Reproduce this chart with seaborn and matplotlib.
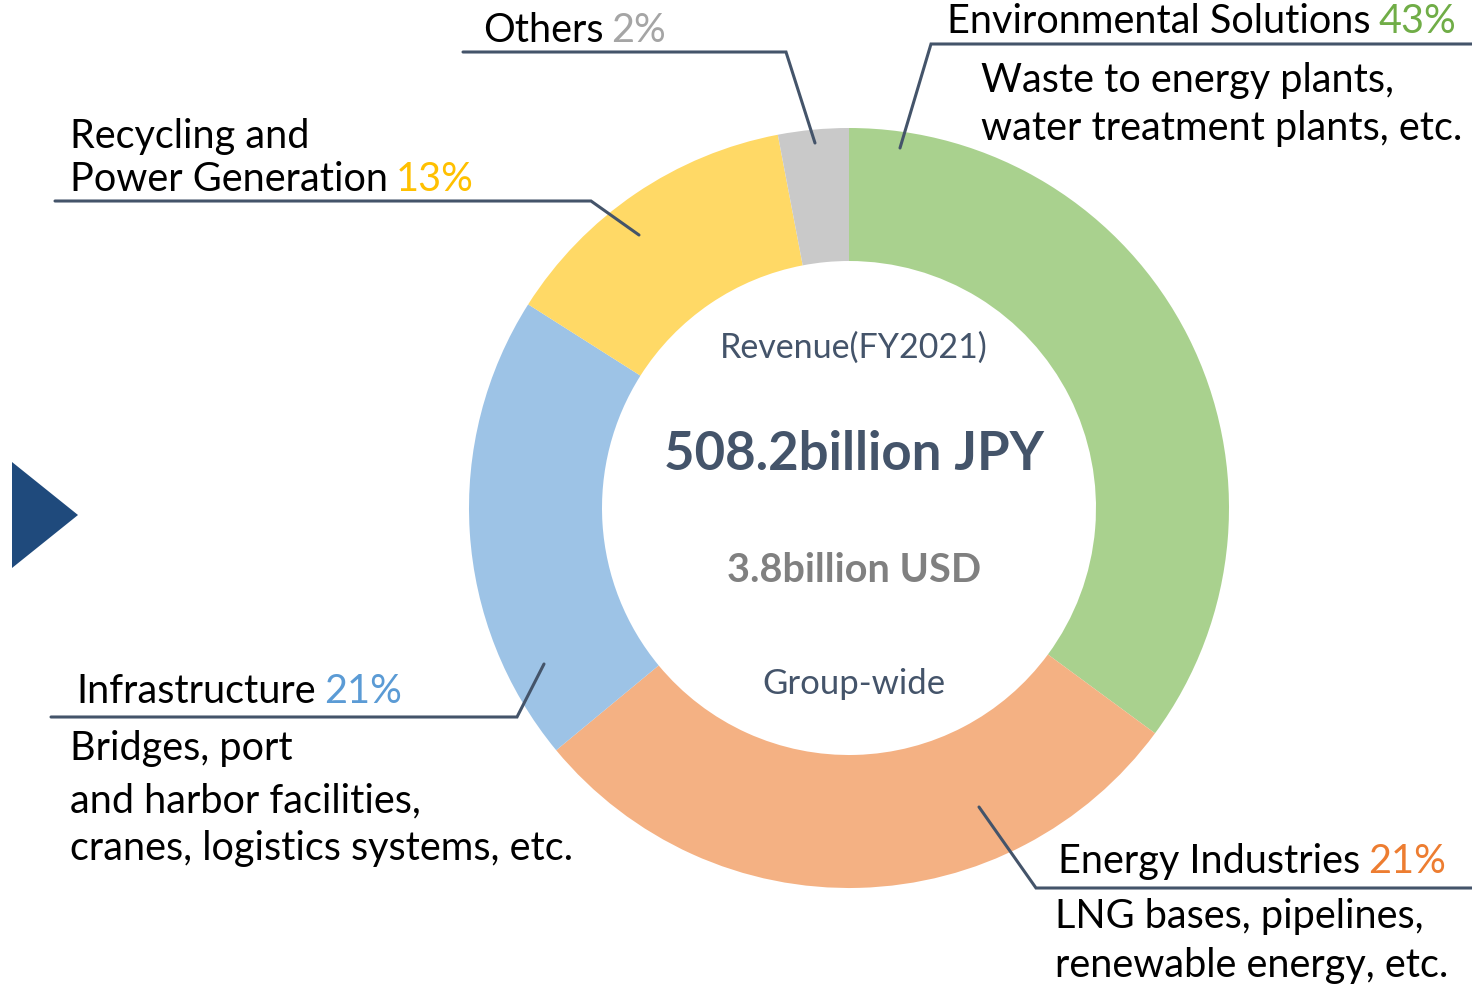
import matplotlib
matplotlib.use('Agg')
import matplotlib.pyplot as plt
import seaborn as sns

# wedge sizes as drawn in the picture (angles), labels carry the printed shares
segments = ['Environmental Solutions', 'Energy Industries', 'Infrastructure',
            'Recycling and\nPower Generation', 'Others']
wedge_share = [35.1, 28.9, 20.0, 13.0, 3.0]
printed_pct = ['43%', '21%', '21%', '13%', '2%']
wedge_colors = ['#A9D18E', '#F4B183', '#9DC3E6', '#FFD966', '#C9C9C9']
pct_colors = ['#70AD47', '#ED7D31', '#5B9BD5', '#FFC000', '#A5A5A5']
descriptions = [
    ['Waste to energy plants,', 'water treatment plants, etc.'],
    ['LNG bases, pipelines,', 'renewable energy, etc.'],
    ['Bridges, port', 'and harbor facilities,', 'cranes, logistics systems, etc.'],
    [],
    [],
]
center_lines = ['Revenue(FY2021)', '508.2billion JPY', '3.8billion USD', 'Group-wide']

sns.set_theme(style='white')
plt.rcParams['font.family'] = ['Lato', 'DejaVu Sans']

W, H = 1472, 1001
fig = plt.figure(figsize=(W / 100, H / 100), dpi=100)
ax = fig.add_axes([0, 0, 1, 1])


def py(y):
    # picture rows count from the top
    return H - y


cx, cy, r_out, r_in = 849, 508, 380, 247
ax.pie(wedge_share, colors=wedge_colors, startangle=90, counterclock=False,
       center=(cx, py(cy)), radius=r_out, frame=True,
       wedgeprops=dict(width=r_out - r_in, linewidth=0))
ax.set_xlim(0, W)
ax.set_ylim(0, H)
ax.set_aspect('equal')
ax.axis('off')

line_col = '#44546A'
fs = 28.5
leaders = [
    [(900, 148), (931, 44), (1472, 44)],
    [(979, 807), (1036, 888), (1472, 888)],
    [(544, 664), (517, 717), (51, 717)],
    [(639, 235), (591, 201), (55, 201)],
    [(815, 143), (786, 52), (463, 52)],
]
for pts in leaders:
    ax.plot([p[0] for p in pts], [py(p[1]) for p in pts], color=line_col,
            lw=2.2, solid_joinstyle='miter')

# name label: (x, baselines), description: (x, baselines)
name_pos = [(947, [33]), (1058, [873]), (76, [703]), (70, [148, 191]), (483, [42])]
desc_pos = [(981, [92, 140]), (1055, [928, 977]), (70, [760, 812, 860]), None, None]

fig.canvas.draw()
renderer = fig.canvas.get_renderer()
for i, name in enumerate(segments):
    x, ys = name_pos[i]
    parts = name.split('\n')
    last = None
    for part, yb in zip(parts, ys):
        last = ax.text(x, py(yb), part, fontsize=fs, color='black',
                       ha='left', va='baseline')
    bb = last.get_window_extent(renderer=renderer)
    x_end = ax.transData.inverted().transform((bb.x1, bb.y0))[0]
    ax.text(x_end + 8, py(ys[-1]), printed_pct[i], fontsize=fs,
            color=pct_colors[i], ha='left', va='baseline')
    if desc_pos[i]:
        dx, dys = desc_pos[i]
        for line, yb in zip(descriptions[i], dys):
            ax.text(dx, py(yb), line, fontsize=fs, color='black',
                    ha='left', va='baseline')

# centre text
ax.text(cx + 5, py(348), center_lines[0], fontsize=24.5, color=line_col,
        ha='center', va='center')
ax.text(cx + 5, py(455), center_lines[1], fontsize=38, color=line_col,
        fontweight='bold', ha='center', va='center')
ax.text(cx + 5, py(571), center_lines[2], fontsize=28.5, color='#808080',
        fontweight='bold', ha='center', va='center')
ax.text(cx + 5, py(684), center_lines[3], fontsize=25, color=line_col,
        ha='center', va='center')

# arrow marker on the left
ax.add_patch(plt.Polygon([(12, py(462)), (12, py(568)), (78, py(515))],
                         closed=True, color='#1F4A7C', lw=0))

fig.savefig('out.png', dpi=100)
